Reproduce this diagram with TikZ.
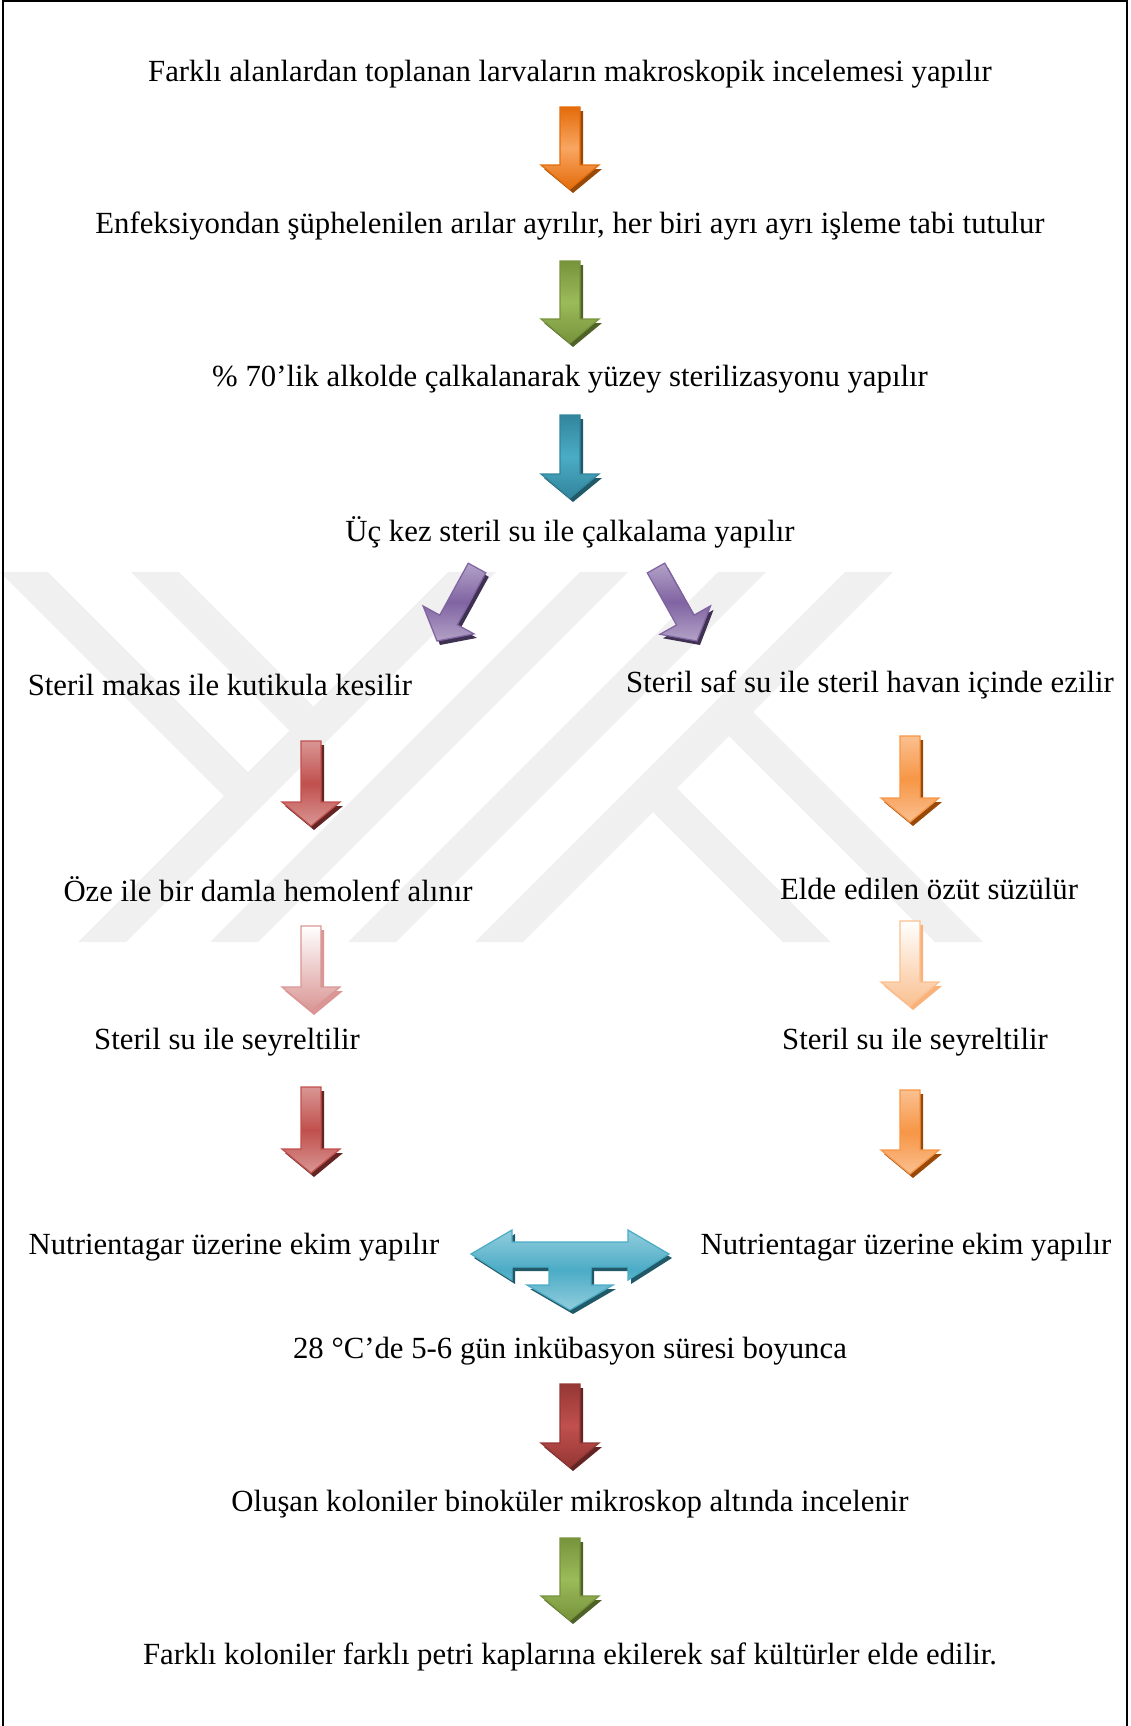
\documentclass[tikz,border=0pt]{standalone}
\usepackage{fontspec}
\setmainfont{Liberation Serif}
\usepackage{tikz}
\usetikzlibrary{calc,shadows}
\definecolor{ngOrD}{RGB}{228,108,10}
\definecolor{ngOr}{RGB}{247,150,70}
\definecolor{ngOrL}{RGB}{250,192,144}
\definecolor{ngOrS}{RGB}{152,72,7}
\definecolor{ngGrD}{RGB}{119,147,60}
\definecolor{ngGr}{RGB}{155,187,89}
\definecolor{ngGrS}{RGB}{79,98,40}
\definecolor{ngTeD}{RGB}{49,133,156}
\definecolor{ngTe}{RGB}{75,172,198}
\definecolor{ngTeL}{RGB}{147,205,221}
\definecolor{ngTeS}{RGB}{33,89,104}
\definecolor{ngPu}{RGB}{128,100,162}
\definecolor{ngPuL}{RGB}{179,162,199}
\definecolor{ngPuS}{RGB}{63,49,81}
\definecolor{ngRd}{RGB}{192,80,77}
\definecolor{ngRdL}{RGB}{217,150,148}
\definecolor{ngRdD}{RGB}{149,55,53}
\definecolor{ngRdS}{RGB}{99,37,35}
\definecolor{wmgray}{RGB}{240,240,240}
\tikzset{
  txt/.style={font=\fontsize{12.3}{14}\selectfont, inner sep=0pt},
  wmark/.style={fill=wmgray},
  blk/.style={line width=0.5pt, line join=miter},
  shd/.style={drop shadow={shadow xshift=1.2pt, shadow yshift=-1.6pt, fill=#1, opacity=1}},
  orgarr/.style={blk, shd=ngOrS, draw=ngOrD, top color=ngOrD, bottom color=ngOrD, middle color=ngOr!85!white},
  grnarr/.style={blk, shd=ngGrS, draw=ngGrD, top color=ngGrD, bottom color=ngGrD, middle color=ngGr},
  tealarr/.style={blk, shd=ngTeS, draw=ngTeD, top color=ngTeD, bottom color=ngTeD, middle color=ngTe},
  purarr/.style={blk, shd=ngPuS, draw=ngPu, top color=ngPuL, bottom color=ngPuL, middle color=ngPu},
  redarr/.style={blk, shd=ngRdS, draw=ngRd, top color=ngRdL, bottom color=ngRdL, middle color=ngRd},
  pinkarr/.style={blk, shd=ngRdL, draw=ngRdL, top color=white, bottom color=ngRdL},
  orglarr/.style={blk, shd=ngOrS, draw=ngOr, top color=ngOrL, bottom color=ngOrL, middle color=ngOr},
  paleorgarr/.style={blk, shd=ngOrL!70!ngOr, draw=ngOrL, top color=white, bottom color=ngOrL},
  dredarr/.style={blk, shd=ngRdS, draw=ngRdD, top color=ngRdD, bottom color=ngRdD, middle color=ngRd},
  teearr/.style={blk, shd=ngTeS, draw=ngTe, top color=ngTeL, bottom color=ngTeL, middle color=ngTe}
}
% block arrow from #2 to #3 (named coordinates)
\newcommand{\blockarrow}[3]{%
  \coordinate (ba-b) at ($(#3)!9.6pt!(#2)$);
  \path[#1] ($(#2)!4pt!90:(#3)$) -- ($(ba-b)!4pt!-90:(#2)$) -- ($(ba-b)!11.6pt!-90:(#2)$) -- (#3)
    -- ($(ba-b)!11.6pt!90:(#2)$) -- ($(ba-b)!4pt!90:(#2)$) -- ($(#2)!4pt!-90:(#3)$) -- cycle;
}

\begin{document}
\begin{tikzpicture}[x=0.4pt,y=-0.4pt]
  \useasboundingbox (0,0) rectangle (1131,1726);
  % watermark
  \fill[wmark] (448,572) -- (496,572) -- (126,942) -- (78,942) -- cycle;
  \fill[wmark] (580,572) -- (628,572) -- (258,942) -- (210,942) -- cycle;
  \fill[wmark] (718,572) -- (766,572) -- (396,942) -- (348,942) -- cycle;
  \fill[wmark] (845,572) -- (893,572) -- (523,942) -- (475,942) -- cycle;
  \fill[wmark] (0,572) -- (48,572) -- (260,784) -- (236,808) -- (0,572) -- cycle;
  \fill[wmark] (131,572) -- (179,572) -- (325,718) -- (301,742) -- cycle;
  \fill[wmark] (717,724) -- (741,700) -- (983,942) -- (935,942) -- cycle;
  \fill[wmark] (641,800) -- (665,776) -- (831,942) -- (783,942) -- cycle;
  % frame
  \draw[line width=0.8pt] (3,1726) -- (3,1) -- (1127,1) -- (1127,1726);

  \node[txt] (look) at (570,74) {Farklı alanlardan toplanan larvaların makroskopik incelemesi yapılır};
  \node[txt] (sep) at (570,226) {Enfeksiyondan şüphelenilen arılar ayrılır, her biri ayrı ayrı işleme tabi tutulur};
  \node[txt] (ster) at (570,379) {\% 70’lik alkolde çalkalanarak yüzey sterilizasyonu yapılır};
  \node[txt] (rinse) at (570,532) {Üç kez steril su ile çalkalama yapılır};
  \node[txt] (cut) at (220,685) {Steril makas ile kutikula kesilir};
  \node[txt] (crush) at (870,685) {Steril saf su ile steril havan içinde ezilir};
  \node[txt] (hemo) at (268,889) {Öze ile bir damla hemolenf alınır};
  \node[txt] (filt) at (929,889) {Elde edilen özüt süzülür};
  \node[txt] (dilL) at (227,1042) {Steril su ile seyreltilir};
  \node[txt] (dilR) at (915,1042) {Steril su ile seyreltilir};
  \node[txt] (agarL) at (234,1247) {Nutrientagar üzerine ekim yapılır};
  \node[txt] (agarR) at (906,1247) {Nutrientagar üzerine ekim yapılır};
  \node[txt] (incub) at (570,1351) {28 °C’de 5-6 gün inkübasyon süresi boyunca};
  \node[txt] (colon) at (570,1504) {Oluşan koloniler binoküler mikroskop altında incelenir};
  \node[txt] (pure) at (570,1657) {Farklı koloniler farklı petri kaplarına ekilerek saf kültürler elde edilir.};

  \coordinate (colL) at (311,0);
  \coordinate (colR) at (910,0);
  \coordinate (a1s) at ($(look)+(0,33)$);   \coordinate (a1e) at ($(sep)+(0,-37)$);
  \coordinate (a2s) at ($(sep)+(0,35)$);    \coordinate (a2e) at ($(ster)+(0,-36)$);
  \coordinate (a3s) at ($(ster)+(0,36)$);   \coordinate (a3e) at ($(rinse)+(0,-34)$);
  \coordinate (p1s) at ($(rinse)+(-93,36)$); \coordinate (p1e) at ($(cut)+(217,-44)$);
  \coordinate (p2s) at ($(rinse)+(86,36)$);  \coordinate (p2e) at ($(crush)+(-173,-44)$);
  \coordinate (l1s) at ($(colL |- cut)+(0,56)$);   \coordinate (l1e) at ($(colL |- hemo)+(0,-63)$);
  \coordinate (l2s) at ($(colL |- hemo)+(0,37)$);  \coordinate (l2e) at ($(colL |- dilL)+(0,-31)$);
  \coordinate (l3s) at ($(colL |- dilL)+(0,45)$);  \coordinate (l3e) at ($(colL |- agarL)+(0,-74)$);
  \coordinate (r1s) at ($(colR |- crush)+(0,51)$); \coordinate (r1e) at ($(colR |- filt)+(0,-67)$);
  \coordinate (r2s) at ($(colR |- filt)+(0,32)$);  \coordinate (r2e) at ($(colR |- dilR)+(0,-36)$);
  \coordinate (r3s) at ($(colR |- dilR)+(0,48)$);  \coordinate (r3e) at ($(colR |- agarR)+(0,-73)$);
  \coordinate (b1s) at ($(incub)+(0,33)$);  \coordinate (b1e) at ($(colon)+(0,-37)$);
  \coordinate (b2s) at ($(colon)+(0,34)$);  \coordinate (b2e) at ($(pure)+(0,-37)$);
  \coordinate (tee) at ($(agarL)!0.5!(agarR)+(0,23)$);

  \blockarrow{orgarr}{a1s}{a1e}
  \blockarrow{grnarr}{a2s}{a2e}
  \blockarrow{tealarr}{a3s}{a3e}
  \blockarrow{purarr}{p1s}{p1e}
  \blockarrow{purarr}{p2s}{p2e}
  \blockarrow{redarr}{l1s}{l1e}
  \blockarrow{pinkarr}{l2s}{l2e}
  \blockarrow{redarr}{l3s}{l3e}
  \blockarrow{orglarr}{r1s}{r1e}
  \blockarrow{paleorgarr}{r2s}{r2e}
  \blockarrow{orglarr}{r3s}{r3e}
  \blockarrow{dredarr}{b1s}{b1e}
  \blockarrow{grnarr}{b2s}{b2e}
  \begin{scope}[shift={(tee)}]
    \path[teearr] (-99,-16) -- (-58,-40) -- (-58,-28) -- (58,-28) -- (58,-40) -- (99,-16)
      -- (58,10) -- (58,-3) -- (21,-3) -- (21,15) -- (43,15) -- (0,40) -- (-43,15)
      -- (-21,15) -- (-21,-3) -- (-58,-3) -- (-58,10) -- cycle;
  \end{scope}
\end{tikzpicture}
\end{document}
